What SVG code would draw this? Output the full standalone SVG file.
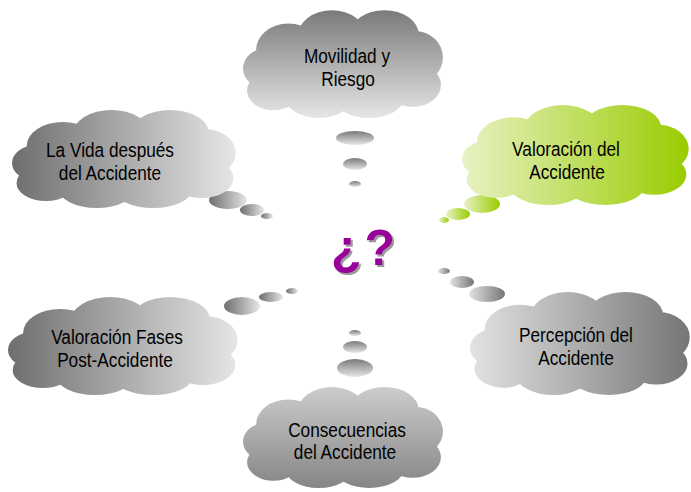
<svg xmlns="http://www.w3.org/2000/svg" xmlns:xlink="http://www.w3.org/1999/xlink" width="691" height="492" viewBox="0 0 691 492">
<style>
.t{font-family:"Liberation Sans",Arial,sans-serif;font-size:20.5px;fill:#000;text-anchor:middle}
.q{font-family:"Liberation Sans",Arial,sans-serif;font-size:50px;font-weight:bold;fill:#990099}
</style>
<defs>
<path id="cloud" d="M22,55 m-22,0 a22,18 0 1,0 44,0 a22,18 0 1,0 -44,0 Z
M100,55 m-78,0 a78,32 0 1,0 156,0 a78,32 0 1,0 -156,0 Z
M45,38 m-32,0 a32,24 0 1,0 64,0 a32,24 0 1,0 -64,0 Z
M88,26 m-34,0 a34,24 0 1,0 68,0 a34,24 0 1,0 -68,0 Z
M140,24 m-34,0 a34,22 0 1,0 68,0 a34,22 0 1,0 -68,0 Z
M170,45 m-28,0 a28,24 0 1,0 56,0 a28,24 0 1,0 -56,0 Z
M30,75 m-26,0 a26,18 0 1,0 52,0 a26,18 0 1,0 -52,0 Z
M75,80 m-34,0 a34,20 0 1,0 68,0 a34,20 0 1,0 -68,0 Z
M125,82 m-34,0 a34,18 0 1,0 68,0 a34,18 0 1,0 -68,0 Z
M168,70 m-28,0 a28,20 0 1,0 56,0 a28,20 0 1,0 -56,0 Z"/>
<linearGradient id="gTop" x1="0" y1="0" x2="0" y2="1"><stop offset="0" stop-color="#7a7a7a"/><stop offset="1" stop-color="#e6e6e6"/></linearGradient>
<linearGradient id="gBot" x1="0" y1="0" x2="0" y2="1"><stop offset="0" stop-color="#cccccc"/><stop offset="1" stop-color="#858585"/></linearGradient>
<linearGradient id="gL" x1="0" y1="0" x2="1" y2="0"><stop offset="0" stop-color="#6e6e6e"/><stop offset="1" stop-color="#e6e6e6"/></linearGradient>
<linearGradient id="gR" x1="0" y1="0" x2="1" y2="0"><stop offset="0" stop-color="#e2e2e2"/><stop offset="1" stop-color="#767676"/></linearGradient>
<linearGradient id="gG" x1="0" y1="0" x2="1" y2="0"><stop offset="0" stop-color="#e8f2c4"/><stop offset="1" stop-color="#99cc00"/></linearGradient>
<filter id="sh" x="-20%" y="-20%" width="140%" height="140%"><feDropShadow dx="2" dy="2" stdDeviation="0.6" flood-color="#9a9a9a"/></filter>
</defs>

<g id="question">
<text class="q" x="331" y="265" letter-spacing="3" filter="url(#sh)">¿?</text>
</g>

<g id="bubbles">
<g fill="url(#gTop)">
<ellipse cx="355" cy="138" rx="19" ry="7"/>
<ellipse cx="355" cy="164" rx="12" ry="6"/>
<ellipse cx="355" cy="184" rx="6" ry="3"/>
</g>
<g fill="url(#gG)">
<ellipse cx="482" cy="204" rx="18" ry="9"/>
<ellipse cx="458" cy="214" rx="12" ry="6"/>
<ellipse cx="444" cy="220" rx="5" ry="3"/>
</g>
<g fill="url(#gL)">
<ellipse cx="228" cy="200" rx="19" ry="9"/>
<ellipse cx="252" cy="210" rx="12" ry="6"/>
<ellipse cx="267" cy="216" rx="6" ry="3"/>
<ellipse cx="242" cy="306" rx="18" ry="9"/>
<ellipse cx="271" cy="297" rx="12" ry="5"/>
<ellipse cx="292" cy="291" rx="6" ry="3"/>
</g>
<g fill="url(#gR)">
<ellipse cx="444" cy="271" rx="6" ry="3"/>
<ellipse cx="462" cy="282" rx="12" ry="6"/>
<ellipse cx="487" cy="294" rx="18" ry="8"/>
</g>
<g fill="url(#gTop)">
<ellipse cx="355" cy="333" rx="6" ry="3"/>
<ellipse cx="355" cy="347" rx="12" ry="6"/>
<ellipse cx="355" cy="368" rx="18" ry="9"/>
</g>
</g>

<g id="movilidad">
<use xlink:href="#cloud" fill="url(#gTop)" transform="translate(243,8) scale(1.01,1.1)"/>
<text class="t" transform="translate(347,63) scale(0.84,1)">Movilidad y</text>
<text class="t" transform="translate(348,86) scale(0.84,1)">Riesgo</text>
</g>

<g id="valoracion">
<use xlink:href="#cloud" fill="url(#gG)" transform="translate(462,103) scale(1.145,1.02)"/>
<text class="t" transform="translate(566,156) scale(0.84,1)">Valoración del</text>
<text class="t" transform="translate(567,179) scale(0.84,1)">Accidente</text>
</g>

<g id="vida">
<use xlink:href="#cloud" fill="url(#gL)" transform="translate(12,108) scale(1.13,1.0)"/>
<text class="t" transform="translate(110,157) scale(0.84,1)">La Vida después</text>
<text class="t" transform="translate(110,180) scale(0.84,1)">del Accidente</text>
</g>

<g id="fases">
<use xlink:href="#cloud" fill="url(#gL)" transform="translate(8,295) scale(1.16,1.0)"/>
<text class="t" transform="translate(117,344) scale(0.84,1)">Valoración Fases</text>
<text class="t" transform="translate(115,367) scale(0.84,1)">Post-Accidente</text>
</g>

<g id="percepcion">
<use xlink:href="#cloud" fill="url(#gR)" transform="translate(470,290) scale(1.11,1.05)"/>
<text class="t" transform="translate(576,342) scale(0.84,1)">Percepción del</text>
<text class="t" transform="translate(576,365) scale(0.84,1)">Accidente</text>
</g>

<g id="consecuencias">
<use xlink:href="#cloud" fill="url(#gBot)" transform="translate(243,385) scale(1.01,1.03)"/>
<text class="t" transform="translate(347,437) scale(0.84,1)">Consecuencias</text>
<text class="t" transform="translate(345,459) scale(0.84,1)">del Accidente</text>
</g>
</svg>
